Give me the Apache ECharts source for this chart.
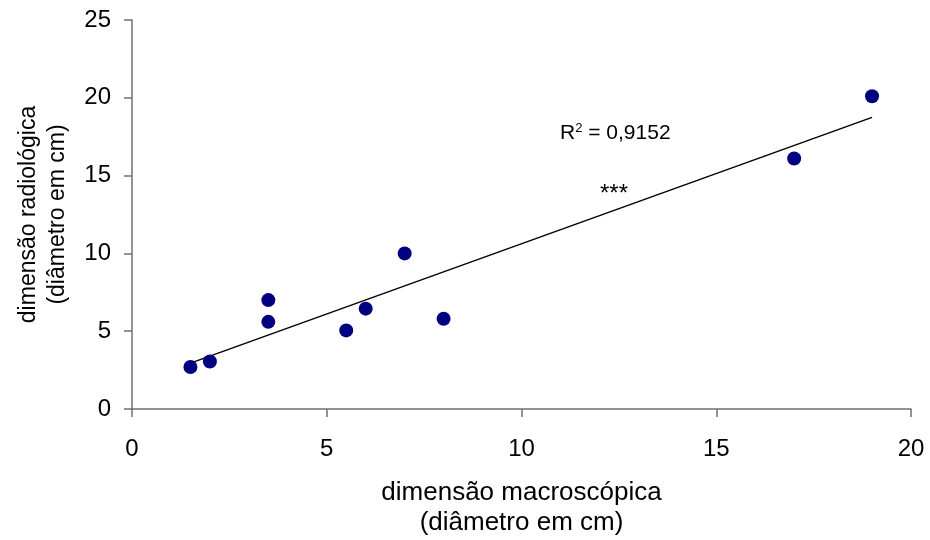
<!DOCTYPE html>
<html>
<head>
<meta charset="utf-8">
<script src="https://cdn.jsdelivr.net/npm/echarts@6/dist/echarts.min.js"></script>
<style>html,body{margin:0;padding:0;background:#fff}#c{width:930px;height:540px}</style>
</head>
<body>
<div id="c"></div>
<script>
var xValues = [1.5, 2, 3.5, 3.5, 5.5, 6, 7, 8, 17, 19];
var yValues = [2.7, 3.05, 7.0, 5.6, 5.05, 6.45, 10.0, 5.8, 16.1, 20.1];
var xTicks = [0, 5, 10, 15, 20];
var yTicks = [0, 5, 10, 15, 20, 25];
var r2Text = '0,9152';
var sigText = '***';

var pts = xValues.map(function (x, i) { return [x, yValues[i]]; });
// least squares trend line
var n = xValues.length, mx = 0, my = 0;
for (var i = 0; i < n; i++) { mx += xValues[i]; my += yValues[i]; }
mx /= n; my /= n;
var sxx = 0, sxy = 0;
for (var i = 0; i < n; i++) { sxx += (xValues[i] - mx) * (xValues[i] - mx); sxy += (xValues[i] - mx) * (yValues[i] - my); }
var b = sxy / sxx, a = my - b * mx;
var xmin = Math.min.apply(null, xValues), xmax = Math.max.apply(null, xValues);
var trend = [[xmin, a + b * xmin], [xmax, a + b * xmax]];

var FONT = 'Liberation Sans, Arial, sans-serif';
var chart = echarts.init(document.getElementById('c'), null, {renderer: 'canvas'});
chart.setOption({
  animation: false,
  backgroundColor: '#fff',
  grid: {left: 132, right: 19, top: 20, bottom: 131, containLabel: false, outerBoundsMode: 'none'},
  xAxis: {
    type: 'value', min: xTicks[0], max: xTicks[xTicks.length - 1], interval: 5,
    name: 'dimensão macroscópica\n(diâmetro em cm)',
    nameLocation: 'middle', nameGap: 69,
    nameTextStyle: {fontFamily: FONT, fontSize: 26, color: '#000', lineHeight: 30},
    axisLine: {show: true, onZero: false, lineStyle: {color: '#707070', width: 1.5}},
    axisTick: {show: true, inside: false, length: 8, lineStyle: {color: '#707070', width: 1.5}},
    axisLabel: {fontFamily: FONT, fontSize: 24, color: '#000', margin: 28},
    splitLine: {show: false}
  },
  yAxis: {
    type: 'value', min: yTicks[0], max: yTicks[yTicks.length - 1], interval: 5,
    name: 'dimensão radiológica\n(diâmetro em cm)',
    nameLocation: 'middle', nameGap: 60, nameRotate: 90,
    nameTextStyle: {fontFamily: FONT, fontSize: 23, color: '#000', lineHeight: 29},
    axisLine: {show: true, onZero: false, lineStyle: {color: '#707070', width: 1.5}},
    axisTick: {show: true, inside: false, length: 8, lineStyle: {color: '#707070', width: 1.5}},
    axisLabel: {fontFamily: FONT, fontSize: 24, color: '#000', margin: 21},
    splitLine: {show: false}
  },
  graphic: [
    {type: 'text', left: 560, top: 122, style: {
      text: '{b|R}{s|2}{b| = ' + r2Text + '}',
      rich: {b: {fontFamily: FONT, fontSize: 21, fill: '#000', verticalAlign: 'bottom'},
             s: {fontFamily: FONT, fontSize: 13, fill: '#000', verticalAlign: 'top', padding: [0, 0, 9, 0]}},
      fill: '#000'}},
    {type: 'text', left: 600, top: 182, style: {text: sigText, fontFamily: FONT, fontSize: 24, fill: '#000'}}
  ],
  series: [
    {type: 'line', data: trend, symbol: 'none', silent: true, lineStyle: {color: '#000', width: 1.5}, z: 1},
    {type: 'scatter', data: pts, symbol: 'circle', symbolSize: 14, itemStyle: {color: '#000080', opacity: 1}, z: 2}
  ]
});
</script>
</body>
</html>
